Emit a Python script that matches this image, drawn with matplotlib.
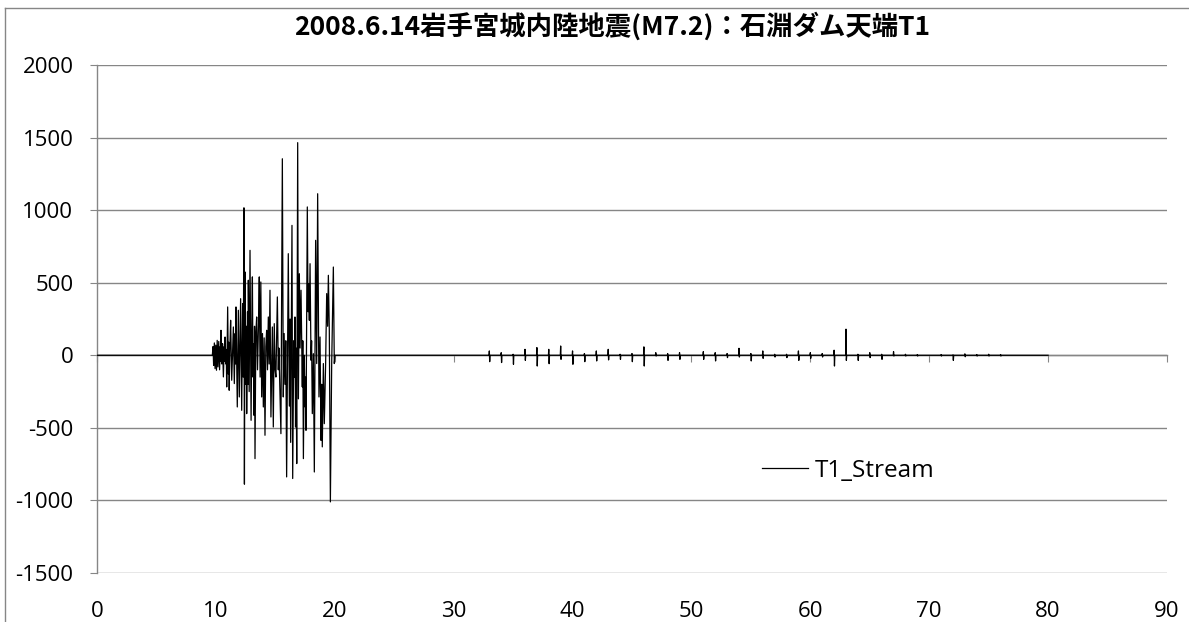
import matplotlib
matplotlib.use("Agg")
import matplotlib.pyplot as plt
from matplotlib.lines import Line2D

# ---------------- data ----------------
title = "2008.6.14岩手宮城内陸地震(M7.2)：石淵ダム天端T1"
series_name = "T1_Stream"
x_ticks = [0, 10, 20, 30, 40, 50, 60, 70, 80, 90]
y_ticks = [-1500, -1000, -500, 0, 500, 1000, 1500, 2000]
record_start = 0.0
record_end = 80.0

# main shaking (time s, value)
burst_t = [9.70, 9.76, 9.81, 9.87, 9.93, 9.99, 10.05, 10.11, 10.17, 10.24,
           10.31, 10.37, 10.40, 10.43, 10.50, 10.56, 10.63, 10.70, 10.74, 10.77,
           10.84, 10.87, 10.91, 10.99, 11.05, 11.08, 11.12, 11.18, 11.24, 11.33,
           11.47, 11.55, 11.62, 11.66, 11.69, 11.80, 11.89, 11.97, 12.08, 12.17,
           12.25, 12.30, 12.36, 12.40, 12.45, 12.52, 12.56, 12.59, 12.66, 12.70,
           12.73, 12.80, 12.87, 12.96, 13.02, 13.07, 13.12, 13.15, 13.20, 13.25,
           13.29, 13.36, 13.43, 13.50, 13.58, 13.65, 13.72, 13.78, 13.85, 13.92,
           13.99, 14.06, 14.13, 14.20, 14.27, 14.34, 14.41, 14.48, 14.55, 14.63,
           14.75, 14.83, 14.91, 14.98, 15.05, 15.17, 15.25, 15.30, 15.47, 15.59,
           15.67, 15.74, 15.81, 15.88, 15.95, 16.09, 16.18, 16.24, 16.29, 16.40,
           16.46, 16.55, 16.60, 16.65, 16.70, 16.74, 16.80, 16.88, 16.94, 17.02,
           17.08, 17.16, 17.27, 17.31, 17.36, 17.43, 17.50, 17.54, 17.58, 17.69,
           17.75, 17.80, 17.86, 17.92, 18.00, 18.05, 18.11, 18.20, 18.28, 18.39,
           18.48, 18.56, 18.67, 18.76, 18.84, 18.90, 18.95, 19.04, 19.12, 19.23,
           19.32, 19.40, 19.46, 19.54, 19.63, 19.74, 19.88, 19.96, 20.02]
burst_v = [0, 60, -70, 85, -92, 70, -103, 103, -80, 95,
           -100, 60, -40, 172, -60, 80, -149, 60, -40, 126,
           -60, 40, -218, 333, -130, 90, -241, 60, 241, -172,
           195, -195, 150, -60, 333, -356, 310, -287, 390, -379,
           356, -150, 1016, -888, 574, -200, 200, -402, 300, -200,
           517, -250, 723, -448, 200, 540, -150, 80, -413, 200,
           -712, 150, 264, -100, 200, 540, -150, 505, -287, 150,
           -356, 120, -551, 60, 172, -100, 264, -60, 448, -425,
           195, -494, 218, -100, -150, 402, -100, 50, -540, 1354,
           -287, 150, -200, 100, -838, 700, -350, 250, -600, 895,
           -849, 100, -150, 264, -494, 50, -746, 1465, -300, 562,
           50, 448, -218, 100, -712, 0, -356, -150, -517, 1022,
           300, 494, 241, 631, -34, 100, -402, 11, -804, 792,
           -57, 1113, -287, 126, -586, -200, -631, -57, -471, -57,
           425, 200, 551, 172, -1010, -57, 608, -57, 0]

# later small spikes (time s, peak up, peak down)
spike_t = [33, 34, 35, 36, 37, 38, 39, 40, 41, 42, 43, 44, 45, 46, 47, 48, 49,
           51, 52, 53, 54, 55, 56, 57, 58, 59, 60, 61, 62, 63, 64, 65, 66, 67,
           68, 69, 71, 72, 73, 74, 75, 76]
spike_up = [30, 18, 7, 41, 53, 41, 64, 30, 12, 30, 41, 7, 12, 58, 18, 12, 18,
            25, 18, 12, 48, 12, 30, 7, 7, 30, 18, 12, 35, 180, 7, 18, 7, 25,
            7, 5, 5, 3, 10, 5, 7, 5]
spike_down = [-44, -50, -62, -35, -74, -58, -28, -62, -44, -39, -32, -28, -44,
              -74, -5, -35, -28, -28, -39, -16, -12, -39, -21, -12, -16, -35,
              -21, -12, -74, -35, -35, -16, -28, -5, -5, -5, -5, -35, -10, -5,
              -5, -5]

# ---------------- build series ----------------
t = [record_start]
v = [0]
t += burst_t
v += burst_v
for st, su, sd in zip(spike_t, spike_up, spike_down):
    t += [st - 0.03, st, st + 0.03, st + 0.06]
    v += [0, su, sd, 0]
t.append(record_end)
v.append(0)

# ---------------- figure ----------------
plt.rcParams['font.family'] = ['Open Sans', 'DejaVu Sans']
grid_col = '#868686'

fig = plt.figure(figsize=(11.89, 6.22), dpi=100)
ax = fig.add_axes([97 / 1189, 1 - 573 / 622, 1070 / 1189, 508 / 622])
ax.set_xlim(x_ticks[0], x_ticks[-1])
ax.set_ylim(y_ticks[0], y_ticks[-1])

ax.plot(t, v, color='black', lw=0.9, label=series_name, zorder=5)

ax.set_yticks(y_ticks)
ax.set_yticklabels([str(y) for y in y_ticks])
ax.set_xticks(x_ticks)
ax.set_xticklabels([str(x) for x in x_ticks])
ax.grid(axis='y', color=grid_col, lw=1.0)
ax.grid(axis='x', visible=False)
ax.set_axisbelow(True)

for s in ['top', 'right', 'bottom']:
    ax.spines[s].set_visible(False)
ax.spines['left'].set_color(grid_col)
ax.spines['left'].set_linewidth(1.0)
ax.tick_params(axis='y', direction='out', length=5, color=grid_col,
               labelsize=16, pad=12, labelcolor='black')
ax.tick_params(axis='x', length=0, labelsize=16, pad=20, labelcolor='black')

sec = ax.secondary_xaxis(-y_ticks[0] / (y_ticks[-1] - y_ticks[0]))
sec.set_xticks(x_ticks)
sec.tick_params(axis='x', direction='out', length=5, color=grid_col,
                labelbottom=False)
sec.spines['bottom'].set_color(grid_col)
sec.spines['bottom'].set_linewidth(1.0)
sec.set_zorder(1)

leg = ax.legend(loc='center left', bbox_to_anchor=(0.6215, 0.2008), frameon=False,
                fontsize=17.5, handlelength=1.9, handletextpad=0.25,
                borderaxespad=0, borderpad=0)

fig.text(612 / 1189, 1 - 26 / 622, title, ha='center', va='center',
         fontsize=19, fontweight='bold', family=['Noto Sans CJK JP', 'DejaVu Sans'])

# chart border (left and top visible)
fig.add_artist(Line2D([5 / 1189, 5 / 1189], [0, 1 - 8 / 622],
                      transform=fig.transFigure, color=grid_col, lw=1.0))
fig.add_artist(Line2D([5 / 1189, 1], [1 - 8 / 622, 1 - 8 / 622],
                      transform=fig.transFigure, color=grid_col, lw=1.0))

fig.savefig('out.png', dpi=100)
